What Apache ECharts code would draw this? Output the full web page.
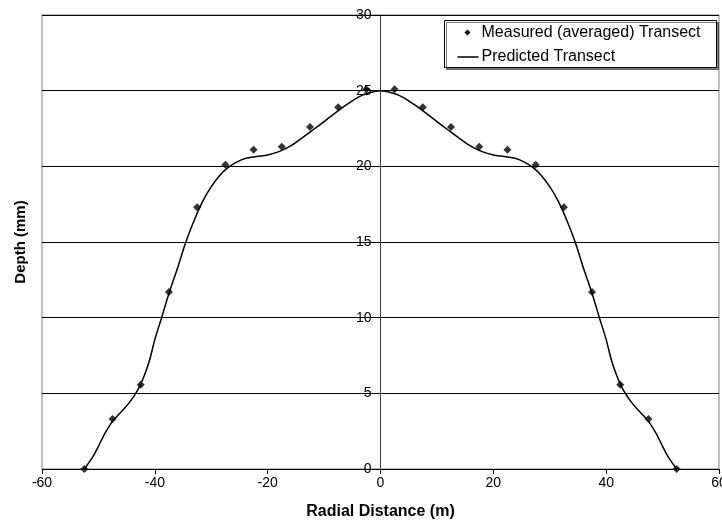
<!DOCTYPE html>
<html>
<head>
<meta charset="utf-8">
<script src="https://cdn.jsdelivr.net/npm/echarts@6/dist/echarts.min.js"></script>
<style>
html,body{margin:0;padding:0;background:#fff;}
#chart{width:722px;height:523px;}
</style>
</head>
<body>
<div id="chart"></div>
<script>
// Measured (averaged) transect
var measuredX = [-52.5, -47.5, -42.5, -37.5, -32.5, -27.5, -22.5, -17.5, -12.5, -7.5, -2.5,
                 2.5, 7.5, 12.5, 17.5, 22.5, 27.5, 32.5, 37.5, 42.5, 47.5, 52.5];
var measuredY = [0, 3.3, 5.57, 11.7, 17.3, 20.1, 21.1, 21.3, 22.6, 23.9, 25.1,
                 25.1, 23.9, 22.6, 21.3, 21.1, 20.1, 17.3, 11.7, 5.57, 3.3, 0];

// Predicted transect
var predictedX = [-52.5, -51, -50, -48.8, -47.5, -46, -44.5, -43, -42, -41, -40, -38.8, -37.5, -36, -34.5,
                  -33, -31.5, -30, -28.5, -27, -25.5, -24, -22, -20, -18, -16, -14, -12, -10, -8, -6, -4, -2,
                  0,
                  2, 4, 6, 8, 10, 12, 14, 16, 18, 20, 22, 24, 25.5, 27, 28.5, 30, 31.5, 33,
                  34.5, 36, 37.5, 38.8, 40, 41, 42, 43, 44.5, 46, 47.5, 48.8, 50, 51, 52.5];
var predictedY = [0, 0.8, 1.5, 2.38, 3.15, 3.77, 4.4, 5.25, 6.05, 7.1, 8.55, 10, 11.6, 13.25, 15.0,
                  16.45, 17.7, 18.66, 19.4, 19.93, 20.28, 20.52, 20.65, 20.75, 20.97, 21.33, 21.85, 22.4, 22.96, 23.53, 24.07, 24.56, 24.86,
                  25,
                  24.86, 24.56, 24.07, 23.53, 22.96, 22.4, 21.85, 21.33, 20.97, 20.75, 20.65, 20.52, 20.28, 19.93, 19.4, 18.66, 17.7, 16.45,
                  15.0, 13.25, 11.6, 10, 8.55, 7.1, 6.05, 5.25, 4.4, 3.77, 3.15, 2.38, 1.5, 0.8, 0];

// Axis settings
var xMin = -60, xMax = 60, xStep = 20;
var yMin = 0, yMax = 30, yStep = 5;

// Legend entries
var legendNames = ['Measured (averaged) Transect', 'Predicted Transect'];

var FONT = "'Liberation Sans', Arial, Helvetica, sans-serif";

function pairs(xs, ys) {
  var out = [];
  for (var i = 0; i < xs.length; i++) out.push([xs[i], ys[i]]);
  return out;
}

var W = 722, H = 523;
var G = {left: 42, right: 3, top: 15, bottom: 54};
var plotW = W - G.left - G.right;
// pixel offset of x = 0 from the grid's left edge (y axis crosses there)
var zeroOffset = plotW * (0 - xMin) / (xMax - xMin);

var chart = echarts.init(document.getElementById('chart'), null, {renderer: 'canvas'});
chart.setOption({
  animation: false,
  backgroundColor: '#ffffff',
  textStyle: {fontFamily: FONT},
  grid: {
    left: G.left, right: G.right, top: G.top, bottom: G.bottom,
    containLabel: false, outerBoundsMode: 'none',
    show: true, borderColor: '#808080', borderWidth: 1, backgroundColor: 'transparent'
  },
  xAxis: {
    type: 'value', min: xMin, max: xMax, interval: xStep,
    name: 'Radial Distance (m)', nameLocation: 'middle', nameGap: 35,
    nameTextStyle: {fontFamily: FONT, fontSize: 16, fontWeight: 'bold', color: '#000'},
    axisLine: {show: true, onZero: false, lineStyle: {color: '#000', width: 1}},
    axisTick: {show: true, inside: false, length: 5, lineStyle: {color: '#000'}},
    axisLabel: {margin: 7, fontFamily: FONT, fontSize: 14, color: '#000', hideOverlap: false},
    splitLine: {show: false}
  },
  yAxis: [{
    type: 'value', min: yMin, max: yMax, interval: yStep,
    position: 'left', offset: -zeroOffset,
    axisLine: {show: true, onZero: false, lineStyle: {color: '#404040', width: 1}},
    axisTick: {show: true, inside: false, length: 5, lineStyle: {color: '#000'}},
    axisLabel: {margin: 9, fontFamily: FONT, fontSize: 14, color: '#000'},
    splitLine: {show: true, lineStyle: {color: '#000', width: 1}}
  }, {
    type: 'value', min: yMin, max: yMax, interval: yStep, position: 'left',
    name: 'Depth (mm)', nameLocation: 'middle', nameGap: 14, nameRotate: 90,
    nameTextStyle: {fontFamily: FONT, fontSize: 15, fontWeight: 'bold', color: '#000'},
    axisLine: {show: false, onZero: false},
    axisTick: {show: false},
    axisLabel: {show: false},
    splitLine: {show: false}
  }],
  graphic: [{
    type: 'group', left: 444, top: 20, z: 100,
    children: [
      {type: 'rect', shape: {x: 0, y: 0, width: 272, height: 47},
       style: {fill: '#fff', stroke: '#000', lineWidth: 1,
               shadowColor: 'rgba(0,0,0,0.5)', shadowOffsetX: 2, shadowOffsetY: 2, shadowBlur: 0}},
      {type: 'polygon', shape: {points: [[23, 9], [26, 12], [23, 15], [20, 12]]}, style: {fill: '#000'}},
      {type: 'text', x: 37, y: 12, style: {text: legendNames[0], font: '16px ' + FONT, fill: '#000', verticalAlign: 'middle'}},
      {type: 'line', shape: {x1: 13, y1: 36.5, x2: 34, y2: 36.5}, style: {stroke: '#000', lineWidth: 1.5}},
      {type: 'text', x: 37, y: 36.5, style: {text: legendNames[1], font: '16px ' + FONT, fill: '#000', verticalAlign: 'middle'}}
    ]
  }],
  series: [{
    name: legendNames[0],
    type: 'scatter',
    yAxisIndex: 0,
    symbol: 'diamond',
    symbolSize: 8,
    itemStyle: {color: '#000'},
    z: 4,
    data: pairs(measuredX, measuredY)
  }, {
    name: legendNames[1],
    type: 'line',
    yAxisIndex: 0,
    symbol: 'none',
    showSymbol: false,
    smooth: 0.35,
    lineStyle: {color: '#000', width: 1.5},
    itemStyle: {color: '#000'},
    z: 3,
    data: pairs(predictedX, predictedY)
  }]
});
</script>
</body>
</html>
